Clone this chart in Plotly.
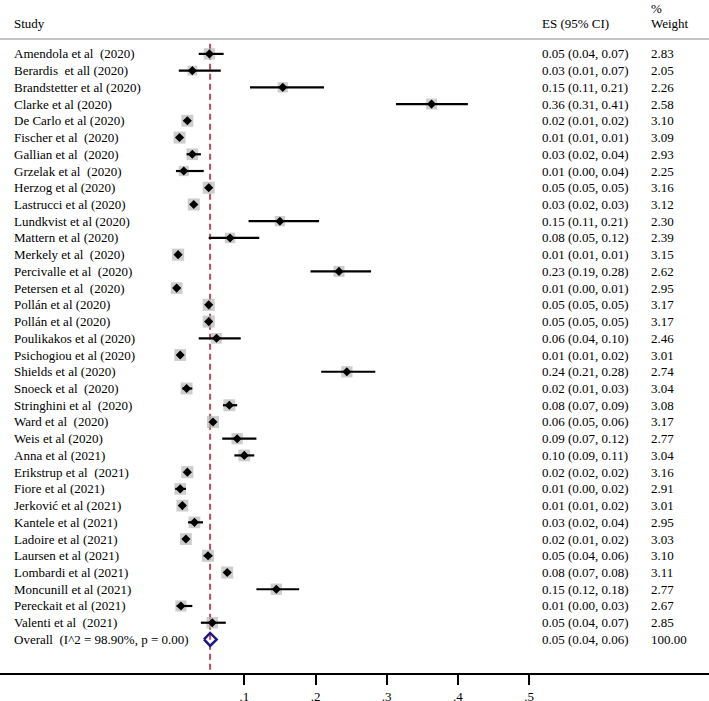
import plotly.graph_objects as go

studies = [
    "Amendola et al  (2020)", "Berardis  et all (2020)", "Brandstetter et al (2020)",
    "Clarke et al (2020)", "De Carlo et al (2020)", "Fischer et al  (2020)",
    "Gallian et al  (2020)", "Grzelak et al  (2020)", "Herzog et al (2020)",
    "Lastrucci et al (2020)", "Lundkvist et al (2020)", "Mattern et al (2020)",
    "Merkely et al  (2020)", "Percivalle et al  (2020)", "Petersen et al  (2020)",
    "Pollán et al (2020)", "Pollán et al (2020)", "Poulikakos et al (2020)",
    "Psichogiou et al (2020)", "Shields et al (2020)", "Snoeck et al  (2020)",
    "Stringhini et al  (2020)", "Ward et al  (2020)", "Weis et al (2020)",
    "Anna et al (2021)", "Erikstrup et al  (2021)", "Fiore et al (2021)",
    "Jerković et al (2021)", "Kantele et al (2021)", "Ladoire et al (2021)",
    "Laursen et al (2021)", "Lombardi et al (2021)", "Moncunill et al (2021)",
    "Pereckait et al (2021)", "Valenti et al  (2021)",
]
es = [0.051, 0.027, 0.154, 0.363, 0.020, 0.009, 0.027, 0.015, 0.050, 0.029,
      0.150, 0.080, 0.007, 0.233, 0.005, 0.050, 0.050, 0.061, 0.010, 0.244,
      0.019, 0.079, 0.056, 0.090, 0.100, 0.020, 0.010, 0.013, 0.030, 0.018,
      0.049, 0.076, 0.145, 0.011, 0.055]
lo = [0.036, 0.008, 0.108, 0.313, 0.015, 0.007, 0.019, 0.004, 0.047, 0.025,
      0.106, 0.050, 0.005, 0.193, 0.001, 0.047, 0.047, 0.036, 0.007, 0.208,
      0.013, 0.070, 0.052, 0.069, 0.086, 0.017, 0.003, 0.008, 0.021, 0.013,
      0.043, 0.072, 0.117, 0.005, 0.039]
hi = [0.071, 0.067, 0.212, 0.414, 0.024, 0.011, 0.039, 0.043, 0.053, 0.033,
      0.205, 0.121, 0.009, 0.278, 0.010, 0.053, 0.053, 0.095, 0.014, 0.284,
      0.027, 0.090, 0.060, 0.117, 0.114, 0.023, 0.018, 0.017, 0.042, 0.022,
      0.055, 0.080, 0.177, 0.027, 0.074]
es_text = [
    "0.05 (0.04, 0.07)", "0.03 (0.01, 0.07)", "0.15 (0.11, 0.21)", "0.36 (0.31, 0.41)",
    "0.02 (0.01, 0.02)", "0.01 (0.01, 0.01)", "0.03 (0.02, 0.04)", "0.01 (0.00, 0.04)",
    "0.05 (0.05, 0.05)", "0.03 (0.02, 0.03)", "0.15 (0.11, 0.21)", "0.08 (0.05, 0.12)",
    "0.01 (0.01, 0.01)", "0.23 (0.19, 0.28)", "0.01 (0.00, 0.01)", "0.05 (0.05, 0.05)",
    "0.05 (0.05, 0.05)", "0.06 (0.04, 0.10)", "0.01 (0.01, 0.02)", "0.24 (0.21, 0.28)",
    "0.02 (0.01, 0.03)", "0.08 (0.07, 0.09)", "0.06 (0.05, 0.06)", "0.09 (0.07, 0.12)",
    "0.10 (0.09, 0.11)", "0.02 (0.02, 0.02)", "0.01 (0.00, 0.02)", "0.01 (0.01, 0.02)",
    "0.03 (0.02, 0.04)", "0.02 (0.01, 0.02)", "0.05 (0.04, 0.06)", "0.08 (0.07, 0.08)",
    "0.15 (0.12, 0.18)", "0.01 (0.00, 0.03)", "0.05 (0.04, 0.07)",
]
weights = [2.83, 2.05, 2.26, 2.58, 3.10, 3.09, 2.93, 2.25, 3.16, 3.12, 2.30, 2.39,
           3.15, 2.62, 2.95, 3.17, 3.17, 2.46, 3.01, 2.74, 3.04, 3.08, 3.17, 2.77,
           3.04, 3.16, 2.91, 3.01, 2.95, 3.03, 3.10, 3.11, 2.77, 2.67, 2.85]

overall_label = "Overall  (I^2 = 98.90%, p = 0.00)"
overall_es, overall_lo, overall_hi = 0.052, 0.0434, 0.0612
overall_text = "0.05 (0.04, 0.06)"
overall_weight = "100.00"

tick_vals = [0.1, 0.2, 0.3, 0.4, 0.5]
tick_text = [".1", ".2", ".3", ".4", ".5"]

FONT = "'Liberation Serif', 'Times New Roman', Times, serif"
W, H = 709, 701
PLOT_H = 673
X0_PX, PX_PER_UNIT = 173.1, 712.0
ROW0_PX, ROW_PX = 53.9, 16.73

def nb(s):
    return s.replace("  ", " \u00a0")

n = len(studies)
rows = list(range(n))
overall_row = n
bottom_row = (PLOT_H - ROW0_PX) / ROW_PX

fig = go.Figure()

# weight boxes
fig.add_trace(go.Scatter(
    x=es, y=rows, mode="markers",
    marker=dict(symbol="square", color="#b8b8b8",
                size=[6.8 * (w ** 0.5) for w in weights], line=dict(width=0)),
    hoverinfo="skip", showlegend=False))

# CI lines
cx, cy = [], []
for i in range(n):
    cx += [lo[i], hi[i], None]
    cy += [i, i, None]
fig.add_trace(go.Scatter(x=cx, y=cy, mode="lines",
                         line=dict(color="black", width=2.2),
                         hoverinfo="skip", showlegend=False))

# point estimates
fig.add_trace(go.Scatter(x=es, y=rows, mode="markers",
                         marker=dict(symbol="diamond", color="black", size=7),
                         hoverinfo="skip", showlegend=False))

# overall diamond
hd = 0.39
fig.add_trace(go.Scatter(
    x=[overall_lo, overall_es, overall_hi, overall_es, overall_lo],
    y=[overall_row, overall_row - hd, overall_row, overall_row + hd, overall_row],
    mode="lines", line=dict(color="#1a1a85", width=2.5),
    hoverinfo="skip", showlegend=False))

# overall dashed line
fig.add_shape(type="line", x0=overall_es, x1=overall_es, xref="x",
              y0=-0.6, y1=bottom_row, yref="y",
              line=dict(color="#b0505c", width=2, dash="6px,4px"), layer="below")

# header separator
sep_row = (39 - ROW0_PX) / ROW_PX
fig.add_shape(type="line", x0=0, x1=1, xref="paper",
              y0=sep_row, y1=sep_row, yref="y",
              line=dict(color="#c4c4c4", width=2))

ann = []
def txt(x_px, y, s):
    ann.append(dict(x=x_px / W, xref="paper", y=y, yref="y", text=nb(s),
                    showarrow=False, xanchor="left", yanchor="middle",
                    font=dict(family=FONT, size=13, color="black")))

hdr_row = (23 - ROW0_PX) / ROW_PX
pct_row = (8 - ROW0_PX) / ROW_PX
txt(11.7, hdr_row, "Study")
txt(540, hdr_row, "ES (95% CI)")
txt(649, hdr_row, "Weight")
txt(649, pct_row, "%")
for i in range(n):
    txt(11.7, i, studies[i])
    txt(540, i, es_text[i])
    txt(649, i, f"{weights[i]:.2f}")
txt(11.7, overall_row, overall_label)
txt(540, overall_row, overall_text)
txt(649, overall_row, overall_weight)

fig.update_layout(
    width=W, height=H,
    margin=dict(l=0, r=0, t=0, b=H - PLOT_H, autoexpand=False),
    paper_bgcolor="white", plot_bgcolor="white",
    font=dict(family=FONT, size=13, color="black"),
    annotations=ann,
    xaxis=dict(range=[-X0_PX / PX_PER_UNIT, (W - X0_PX) / PX_PER_UNIT],
               tickvals=tick_vals, ticktext=tick_text,
               ticks="outside", ticklen=10, tickwidth=2, tickcolor="black",
               automargin=False,
               showline=True, linecolor="black", linewidth=2,
               showgrid=False, zeroline=False, fixedrange=True,
               tickfont=dict(family=FONT, size=13, color="black")),
    yaxis=dict(range=[bottom_row, -ROW0_PX / ROW_PX], automargin=False,
               visible=False, showgrid=False, zeroline=False, fixedrange=True),
    showlegend=False,
)

fig.write_html("out.html", config={"displayModeBar": False},
               post_script="document.body.style.margin='0';")
